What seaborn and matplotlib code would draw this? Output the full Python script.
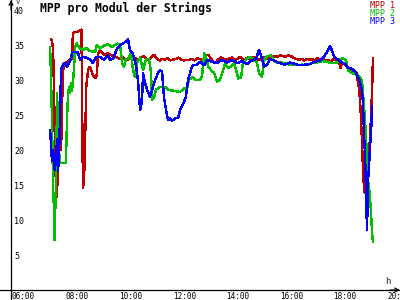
import matplotlib
matplotlib.use("Agg")
import matplotlib.pyplot as plt
import pandas as pd
import seaborn as sns

TITLE = "MPP pro Modul der Strings"
SERIES = ["MPP 1", "MPP 2", "MPP 3"]
COLORS = ["#c00000", "#00c000", "#0000ff"]
X_TICKS = [6, 8, 10, 12, 14, 16, 18, 20]
X_LABELS = ["06:00", "08:00", "10:00", "12:00", "14:00", "16:00", "18:00", "20:00"]
Y_TICKS = [5, 10, 15, 20, 25, 30, 35, 40]

mpp1_t = [7.34, 7.38, 7.42, 7.46, 7.50, 7.55, 7.60, 7.64, 7.68, 7.72, 7.76, 7.80, 7.85, 7.95,
          8.05, 8.13, 8.16, 8.24, 8.35, 8.43, 8.48, 8.50, 8.52, 8.54, 8.58, 8.62, 8.66, 8.73,
          8.80, 8.88, 8.95, 9.02, 9.06, 9.10, 9.17, 9.25, 9.35, 9.45, 9.55, 9.65, 9.75, 9.85,
          9.92, 10.00, 10.10, 10.20, 10.30, 10.40, 10.50, 10.60, 10.70, 10.80, 10.90, 11.00,
          11.10, 11.20, 11.30, 11.40, 11.50, 11.60, 11.70, 11.80, 11.90, 12.00, 12.10, 12.20,
          12.30, 12.40, 12.50, 12.60, 12.70, 12.80, 12.90, 13.00, 13.10, 13.20, 13.30, 13.40,
          13.50, 13.60, 13.70, 13.80, 13.90, 14.00, 14.10, 14.20, 14.30, 14.40, 14.50, 14.60,
          14.70, 14.80, 14.90, 15.00, 15.10, 15.20, 15.30, 15.40, 15.50, 15.60, 15.70, 15.80,
          15.90, 16.00, 16.10, 16.20, 16.30, 16.40, 16.50, 16.60, 16.70, 16.80, 16.90, 17.00,
          17.10, 17.20, 17.30, 17.40, 17.50, 17.60, 17.70, 17.80, 17.90, 18.00, 18.10, 18.15,
          18.20, 18.30, 18.40, 18.50, 18.60, 18.75, 18.85, 18.90, 18.95, 19.00, 19.05, 19.10,
          19.18, 19.25, 19.33, 19.36]
mpp1_v = [35.9, 35.5, 34.5, 28.0, 18.0, 13.3, 16.0, 24.0, 25.5, 20.0, 27.0, 31.5, 32.4, 32.6,
          32.9, 33.0, 36.7, 36.9, 36.9, 37.1, 37.2, 30.0, 20.0, 14.6, 16.0, 22.0, 29.0, 31.5,
          31.9, 31.0, 30.4, 30.3, 31.0, 33.8, 34.2, 33.9, 33.6, 33.8, 33.6, 33.5, 33.3, 33.1,
          33.0, 33.4, 33.0, 32.9, 33.2, 33.0, 33.1, 32.8, 33.2, 33.4, 33.0, 32.9,
          33.3, 33.6, 33.0, 32.8, 33.0, 32.9, 33.1, 32.8, 32.9, 33.0, 33.2, 32.9,
          32.8, 32.9, 32.9, 33.0, 32.8, 33.1, 33.0, 32.8, 33.5, 33.6, 33.2, 32.6,
          32.5, 33.0, 33.2, 33.0, 32.9, 33.1, 33.2, 32.9, 33.0, 33.3, 32.9, 33.0,
          33.2, 32.9, 33.3, 33.1, 32.9, 33.0, 33.2, 33.1, 33.0, 33.2, 33.4, 33.3,
          33.5, 33.4, 33.3, 33.5, 33.4, 33.2, 33.0, 32.9, 33.0, 32.8, 33.0, 32.9,
          33.0, 32.8, 33.1, 32.9, 33.0, 32.8, 32.9, 32.6, 33.0, 32.7, 32.5, 31.7,
          32.4, 32.3, 32.0, 31.3, 31.0, 31.0, 28.6, 25.7, 21.4, 16.0, 13.9, 14.2,
          19.0, 21.4, 28.6, 33.1]

mpp2_t = [7.31, 7.34, 7.38, 7.42, 7.46, 7.48, 7.49, 7.53, 7.57, 7.60, 7.64, 7.68, 7.90, 7.94,
          7.98, 8.02, 8.05, 8.09, 8.13, 8.20, 8.24, 8.31, 8.43, 8.54, 8.65, 8.76, 8.87, 8.99,
          9.06, 9.17, 9.32, 9.47, 9.62, 9.73, 9.84, 9.92, 10.00, 10.07, 10.14, 10.22, 10.33,
          10.40, 10.48, 10.55, 10.67, 10.78, 10.89, 11.00, 11.08, 11.11, 11.19, 11.26, 11.41,
          11.60, 11.71, 11.86, 12.01, 12.16, 12.31, 12.42, 12.49, 12.61, 12.76, 12.91, 12.98,
          13.06, 13.13, 13.21, 13.32, 13.43, 13.54, 13.65, 13.77, 13.84, 13.95, 14.07, 14.18,
          14.25, 14.33, 14.44, 14.51, 14.63, 14.77, 14.92, 15.03, 15.11, 15.22, 15.30, 15.41,
          15.56, 15.67, 15.78, 15.97, 16.15, 16.34, 16.53, 16.71, 16.90, 17.09, 17.28, 17.46,
          17.65, 17.83, 18.02, 18.13, 18.24, 18.36, 18.43, 18.58, 18.73, 18.84, 18.95, 19.03,
          19.07, 19.14, 19.18, 19.25, 19.29, 19.33, 19.36]
mpp2_v = [34.7, 31.1, 24.3, 15.0, 11.0, 7.1, 10.0, 14.7, 28.1, 24.3, 20.0, 18.1, 18.1, 24.3,
          28.0, 29.0, 28.2, 29.5, 28.5, 31.4, 34.7, 35.2, 34.5, 34.3, 34.6, 34.2, 34.1, 34.0,
          35.0, 34.5, 34.9, 35.1, 34.7, 35.0, 35.2, 35.0, 32.4, 31.9, 33.0, 33.0, 33.8,
          31.5, 30.4, 32.5, 33.2, 31.4, 33.0, 33.0, 31.0, 27.1, 27.5, 28.6, 29.0,
          29.0, 28.6, 28.5, 28.4, 28.3, 28.8, 28.7, 30.0, 30.4, 30.0, 30.0, 30.5,
          33.8, 33.3, 31.9, 31.4, 31.0, 29.8, 30.0, 31.4, 32.4, 31.7, 31.9, 32.4,
          31.5, 30.2, 30.4, 32.5, 33.0, 33.3, 32.8, 32.5, 31.0, 30.4, 32.8, 33.4,
          33.5, 32.7, 32.5, 32.5, 32.3, 32.1, 32.1, 32.2, 32.1, 32.4, 32.5, 32.7,
          32.6, 32.4, 32.5, 32.9, 33.1, 32.8, 31.4, 31.0, 30.8, 30.5, 30.0, 26.2,
          23.9, 19.0, 15.7, 13.3, 11.0, 8.1, 6.9]

mpp3_t = [7.31, 7.34, 7.38, 7.42, 7.46, 7.49, 7.53, 7.57, 7.60, 7.64, 7.68, 7.72, 7.79, 7.87,
          7.94, 8.02, 8.09, 8.13, 8.24, 8.35, 8.43, 8.54, 8.65, 8.80, 8.91, 9.02, 9.17, 9.32,
          9.47, 9.55, 9.66, 9.81, 9.92, 10.07, 10.22, 10.29, 10.40, 10.52, 10.59, 10.67, 10.74,
          10.78, 10.85, 10.96, 11.04, 11.11, 11.23, 11.34, 11.41, 11.49, 11.56, 11.64, 11.71,
          11.79, 11.86, 11.97, 12.09, 12.16, 12.27, 12.38, 12.46, 12.57, 12.64, 12.79, 12.91,
          13.06, 13.17, 13.36, 13.54, 13.73, 13.91, 14.10, 14.29, 14.47, 14.66, 14.85, 15.00,
          15.11, 15.18, 15.30, 15.41, 15.52, 15.71, 15.89, 16.08, 16.27, 16.45, 16.64, 16.83,
          17.01, 17.20, 17.39, 17.53, 17.68, 17.76, 17.83, 17.91, 18.02, 18.17, 18.32, 18.43,
          18.58, 18.73, 18.84, 18.95, 18.99, 19.03, 19.07, 19.10, 19.14, 19.18, 19.22, 19.25,
          19.29, 19.33]
mpp3_v = [22.9, 21.0, 18.5, 20.0, 17.5, 17.1, 19.0, 21.5, 17.0, 18.5, 25.0, 31.5, 32.2, 32.4,
          31.9, 32.5, 33.0, 34.0, 34.0, 33.9, 32.9, 33.3, 33.2, 32.9, 32.4, 33.3, 33.3, 32.9,
          33.5, 32.9, 33.0, 34.5, 35.0, 35.3, 35.8, 34.3, 33.8, 32.0, 30.0, 25.7, 27.0,
          31.0, 29.6, 28.3, 27.6, 28.5, 30.0, 31.0, 31.4, 31.2, 27.5, 25.7, 24.3,
          24.5, 24.2, 24.5, 24.6, 25.7, 26.5, 27.6, 30.0, 31.5, 32.1, 32.2, 32.6,
          32.1, 32.9, 32.6, 32.4, 32.9, 32.5, 32.9, 32.4, 32.7, 32.3, 32.8, 33.0,
          34.3, 33.5, 31.9, 32.2, 33.0, 32.7, 32.4, 32.2, 32.5, 32.3, 32.1, 32.2,
          32.3, 32.6, 32.8, 33.3, 34.2, 34.9, 34.2, 33.3, 33.0, 32.6, 32.3, 31.8,
          31.6, 31.0, 30.2, 28.5, 26.7, 22.0, 19.0, 14.0, 8.6, 15.7, 18.0, 20.4,
          22.4, 26.2]

df = pd.concat([
    pd.DataFrame({"t": mpp1_t, "v": mpp1_v, "s": SERIES[0]}),
    pd.DataFrame({"t": mpp2_t, "v": mpp2_v, "s": SERIES[1]}),
    pd.DataFrame({"t": mpp3_t, "v": mpp3_v, "s": SERIES[2]}),
], ignore_index=True)

sns.set_style("white")
plt.rcParams["font.family"] = ["DejaVu Sans Mono", "DejaVu Sans"]

fig = plt.figure(figsize=(4, 3), dpi=100)
ax = fig.add_axes([0, 0, 1, 1])
ax.set_facecolor("white")

# pixel geometry: 06:00 at x=15px, 26.79 px/hour; 0 V at y=290px, 7 px/V
PXH = 26.79
PXV = 7.0
x0 = 6 - 15 / PXH
ax.set_xlim(x0, x0 + 400 / PXH)
ax.set_ylim(-10 / PXV, 290 / PXV)
yaxis_x = 6 - 4 / PXH

sns.lineplot(data=df, x="t", y="v", hue="s", palette=dict(zip(SERIES, COLORS)),
             sort=False, estimator=None, lw=1.0, legend=False, ax=ax,
             antialiased=False)

for side in ["top", "right"]:
    ax.spines[side].set_visible(False)
ax.spines["left"].set_position(("data", yaxis_x))
ax.spines["bottom"].set_position(("data", 0))
for side in ["left", "bottom"]:
    ax.spines[side].set_linewidth(0.9)
    ax.spines[side].set_color("black")

ax.set_xticks(X_TICKS)
ax.set_yticks(Y_TICKS)
ax.set_xticklabels([])
ax.set_yticklabels([])
ax.tick_params(direction="inout", length=6, width=0.8, color="black")
ax.set_xlabel("")
ax.set_ylabel("")

for t, lab in zip(X_TICKS, X_LABELS):
    ax.text(t - 3 / PXH, -2.2 / PXV, lab, ha="left", va="top", fontsize=5.5,
            color="black", clip_on=False)
for v in Y_TICKS:
    ax.text(yaxis_x + 3 / PXH, v - 0.2, str(v), ha="left", va="center",
            fontsize=6, color="black")

# axis arrows
ax.annotate("", xy=(yaxis_x, 290 / PXV), xytext=(yaxis_x, 280 / PXV),
            arrowprops=dict(arrowstyle="->", lw=0.9, color="black",
                            shrinkA=0, shrinkB=0, mutation_scale=7))
ax.annotate("", xy=(x0 + 400 / PXH, 0), xytext=(x0 + 390 / PXH, 0),
            arrowprops=dict(arrowstyle="->", lw=0.9, color="black",
                            shrinkA=0, shrinkB=0, mutation_scale=7))
ax.text(yaxis_x + 5 / PXH, 291.5 / PXV, "V", ha="left", va="top", fontsize=5)
ax.text(x0 + 385 / PXH, 8.5 / PXV, "h", ha="left", va="center", fontsize=6.5)

fig.text(40 / 400, 1 - 2 / 300, TITLE, ha="left", va="top", fontsize=8.3,
         fontweight="bold", color="black")
for i, (name, col) in enumerate(zip(SERIES, COLORS)):
    fig.text(370 / 400, 1 - (1.5 + 7.5 * i) / 300, name, ha="left", va="top",
             fontsize=6, color=col)

fig.savefig("out.png", dpi=100, facecolor="white")
